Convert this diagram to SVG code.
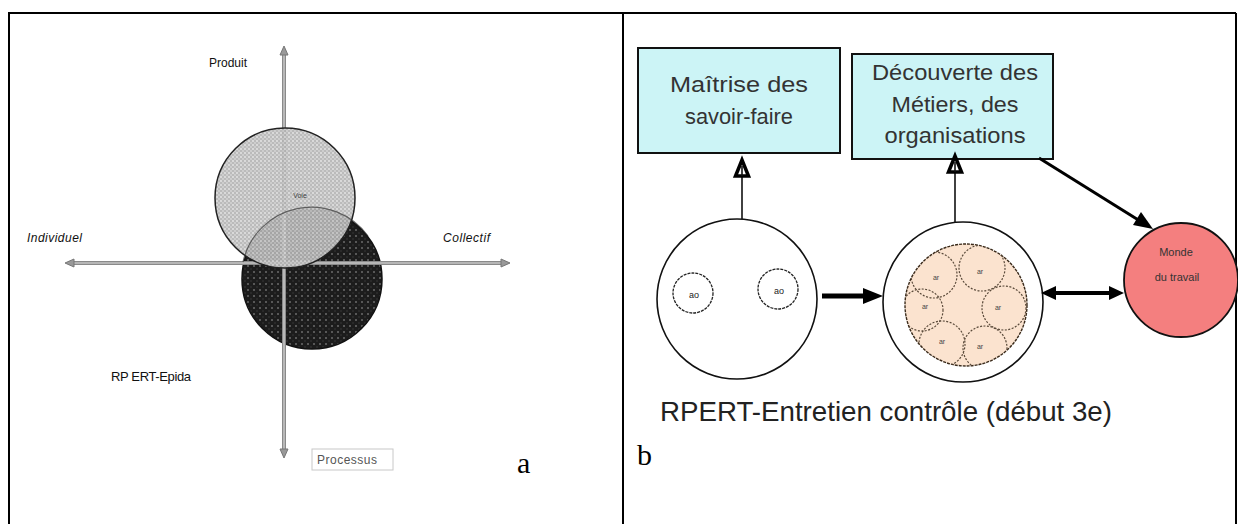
<svg xmlns="http://www.w3.org/2000/svg" width="1238" height="524" viewBox="0 0 1238 524">
<style>
.frame{fill:none;stroke:#000;stroke-width:2}
.lbl{font-family:"Liberation Sans",Arial,sans-serif;fill:#111}
.it{font-style:italic}
.box{fill:#ccf4f6;stroke:#111;stroke-width:2}
.btxt{font-family:"Liberation Sans",Arial,sans-serif;font-size:22px;fill:#333;text-anchor:middle}
.ser{font-family:"Liberation Serif","Times New Roman",serif;fill:#000}
.axo{stroke:#8a8a8a;stroke-width:4;fill:none}
.axi{stroke:#c4c4c4;stroke-width:1.6;fill:none}
.cell{fill:none;stroke:#5a4a3a;stroke-width:1.2;stroke-dasharray:2 1.5}
.tiny{font-family:"Liberation Sans",Arial,sans-serif;font-size:7px;fill:#444;text-anchor:middle}
</style>
<defs>
<pattern id="pLight" width="4" height="4" patternUnits="userSpaceOnUse">
<rect width="4" height="4" fill="#b4b4b4"/>
<circle cx="1" cy="1" r="0.9" fill="#e6e6e6"/>
<circle cx="3" cy="3" r="0.9" fill="#d2d2d2"/>
</pattern>
<pattern id="pDark" width="6" height="6" patternUnits="userSpaceOnUse">
<rect width="6" height="6" fill="#1c1c1c"/>
<circle cx="2" cy="2" r="1" fill="#6a6a6a"/>
<circle cx="5" cy="5" r="0.7" fill="#3e3e3e"/>
</pattern>
<clipPath id="clipInner"><circle cx="966" cy="305" r="61"/></clipPath>
</defs>

<g id="frame">
<line class="frame" x1="8" y1="13" x2="1236" y2="13"/>
<line class="frame" x1="9" y1="13" x2="9" y2="524"/>
<line class="frame" x1="623" y1="13" x2="623" y2="524"/>
<line class="frame" x1="1236" y1="13" x2="1236" y2="524"/>
</g>

<!-- Panel a -->
<g id="dark-circle">
<circle cx="312" cy="279" r="70" fill="url(#pDark)" stroke="#111" stroke-width="1.5"/>
</g>
<g id="axes">
<line class="axo" x1="284" y1="50" x2="284" y2="454"/>
<line class="axi" x1="284" y1="50" x2="284" y2="454"/>
<line class="axo" x1="69" y1="263" x2="506" y2="263"/>
<line class="axi" x1="69" y1="263" x2="506" y2="263"/>
<path d="M284,46 L280,55 L288,55 Z" fill="#999" stroke="#777" stroke-width="1"/>
<path d="M284,458 L280,449 L288,449 Z" fill="#999" stroke="#777" stroke-width="1"/>
<path d="M65,263 L74,259 L74,267 Z" fill="#999" stroke="#777" stroke-width="1"/>
<path d="M510,263 L501,259 L501,267 Z" fill="#999" stroke="#777" stroke-width="1"/>
</g>
<g id="light-circle">
<circle cx="285" cy="198" r="70" fill="url(#pLight)" fill-opacity="0.9" stroke="#222" stroke-width="1.5"/>
<path d="M243,262 A70,70 0 0 1 368,236" fill="none" stroke="#333" stroke-width="1.2" opacity="0.7"/>
<text x="300" y="198" class="tiny" fill="#333">Voie</text>
</g>
<g id="labels-a">
<text x="209" y="67" class="lbl" font-size="12">Produit</text>
<text x="27" y="242" class="lbl it" font-size="12" textLength="55">Individuel</text>
<text x="443" y="242" class="lbl it" font-size="12" textLength="47">Collectif</text>
<text x="111" y="381" class="lbl" font-size="13" textLength="80">RP ERT-Epida</text>
</g>
<g id="processus">
<rect x="312" y="449" width="81" height="21" fill="#fff" stroke="#c8c8c8" stroke-width="1"/>
<text x="317" y="464" class="lbl" font-size="12" textLength="60" style="fill:#555">Processus</text>
</g>
<text x="517" y="473" class="ser" font-size="30">a</text>

<!-- Panel b -->
<g id="box-maitrise">
<rect class="box" x="638" y="48" width="202" height="105"/>
<text x="739" y="92" class="btxt" textLength="138" lengthAdjust="spacingAndGlyphs">Maîtrise des</text>
<text x="739" y="124" class="btxt" textLength="108" lengthAdjust="spacingAndGlyphs">savoir-faire</text>
</g>
<g id="box-decouverte">
<rect class="box" x="852" y="54" width="201" height="105"/>
<text x="955" y="80" class="btxt" textLength="166" lengthAdjust="spacingAndGlyphs">Découverte des</text>
<text x="955" y="112" class="btxt" textLength="127" lengthAdjust="spacingAndGlyphs">Métiers, des</text>
<text x="955" y="143" class="btxt" textLength="141" lengthAdjust="spacingAndGlyphs">organisations</text>
</g>
<g id="circle-individuel">
<circle cx="737" cy="299" r="80" fill="#fff" stroke="#111" stroke-width="1.6"/>
<circle cx="693" cy="293" r="20" fill="none" stroke="#222" stroke-width="1.3" stroke-dasharray="3 1"/>
<text x="694" y="298" class="tiny" style="font-size:9px;fill:#222">ao</text>
<circle cx="778" cy="289" r="20" fill="none" stroke="#222" stroke-width="1.3" stroke-dasharray="3 1"/>
<text x="779" y="294" class="tiny" style="font-size:9px;fill:#222">ao</text>
</g>
<g id="circle-collectif">
<circle cx="963" cy="302" r="80" fill="#fff" stroke="#111" stroke-width="1.6"/>
<circle cx="966" cy="305" r="61" fill="#fbe3cf" stroke="#3a2a1a" stroke-width="1.4" stroke-dasharray="3 1"/>
<g clip-path="url(#clipInner)">
<circle class="cell" cx="934" cy="275" r="23"/>
<circle class="cell" cx="982" cy="268" r="23"/>
<circle class="cell" cx="922" cy="310" r="21"/>
<circle class="cell" cx="1004" cy="308" r="22"/>
<circle class="cell" cx="942" cy="344" r="23"/>
<circle class="cell" cx="985" cy="348" r="22"/>
</g>
<text x="936" y="280" class="tiny">ar</text>
<text x="980" y="274" class="tiny">ar</text>
<text x="925" y="309" class="tiny">ar</text>
<text x="998" y="310" class="tiny">ar</text>
<text x="942" y="344" class="tiny">ar</text>
<text x="980" y="349" class="tiny">ar</text>
</g>
<g id="circle-monde">
<circle cx="1181" cy="280" r="57" fill="#f47f7f" stroke="#111" stroke-width="1.8"/>
<text x="1176" y="256" class="tiny" style="font-size:11px;fill:#333">Monde</text>
<text x="1177" y="281" class="tiny" style="font-size:11px;fill:#333">du travail</text>
</g>

<g id="connectors">
<line x1="742" y1="219" x2="742" y2="166" stroke="#111" stroke-width="1.6"/>
<polygon points="742,160 735.5,176 748.5,176" fill="#fff" stroke="#000" stroke-width="3.5" stroke-linejoin="miter"/>
<line x1="742" y1="166" x2="742" y2="176" stroke="#111" stroke-width="1.6"/>
<line x1="955" y1="222" x2="955" y2="164" stroke="#111" stroke-width="1.6"/>
<polygon points="955,156 948.5,172 961.5,172" fill="#fff" stroke="#000" stroke-width="3.5"/>
<line x1="955" y1="162" x2="955" y2="172" stroke="#111" stroke-width="1.6"/>
<line x1="1039" y1="158" x2="1140" y2="221" stroke="#000" stroke-width="3"/>
<polygon points="1153,229 1133,225 1141,212" fill="#000"/>
<line x1="822" y1="296" x2="866" y2="296" stroke="#000" stroke-width="5"/>
<polygon points="883,296 863,288 863,304" fill="#000"/>
<line x1="1052" y1="293" x2="1113" y2="293" stroke="#000" stroke-width="4"/>
<polygon points="1041,293 1056,286 1056,300" fill="#000"/>
<polygon points="1124,293 1109,286 1109,300" fill="#000"/>
</g>

<text x="660" y="421" class="lbl" font-size="28" textLength="452" lengthAdjust="spacingAndGlyphs" style="fill:#222">RPERT-Entretien contrôle (début 3e)</text>
<text x="637" y="465" class="ser" font-size="30">b</text>
</svg>
